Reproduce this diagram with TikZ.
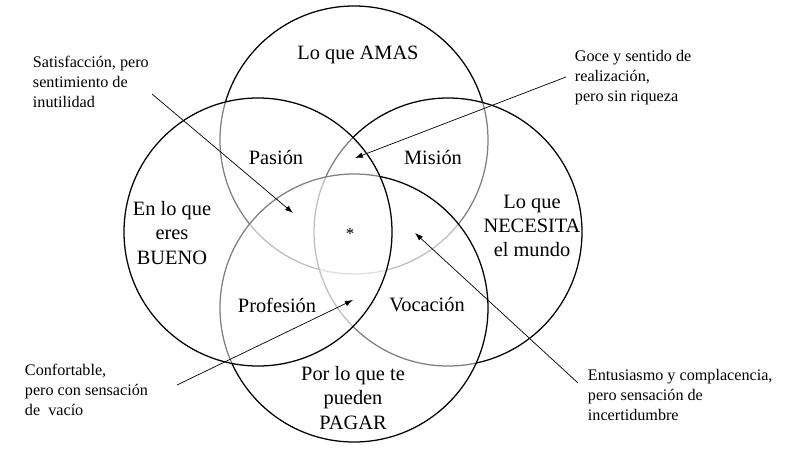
\documentclass[tikz,border=0pt]{standalone}
\usepackage{fontspec}
\setmainfont{Liberation Serif}
\usetikzlibrary{positioning,arrows.meta}

\begin{document}
\begin{tikzpicture}[
    ring/.style={draw=black, line width=0.9pt, fill=white, fill opacity=0.5},
    area/.style={font=\fontsize{14.5}{17.2}\selectfont, align=center},
    note/.style={font=\fontsize{11.5}{14.2}\selectfont, align=left, anchor=west},
    pointer/.style={line width=0.5pt, -{Latex[length=2mm,width=1.4mm]}}
]
    \useasboundingbox (0,0) rectangle (20,11.475);

    % Circles (drawn in this order, each one greys what lies below it)
    \draw[ring] (8.85,7.975) circle (3.35);
    \draw[ring] (11.2,5.675) circle (3.35);
    \draw[ring] (8.85,3.775) circle (3.35);
    \draw[ring] (6.45,5.675) circle (3.35);

    % Circle labels
    \node[area] (amas) at (8.95,10.1) {Lo que AMAS};
    \node[area] (bueno) at (4.3,5.65) {En lo que\\eres\\BUENO};
    \node[area] (necesita) at (13.3,5.825) {Lo que\\NECESITA\\el mundo};
    \node[area] (pagar) at (8.825,1.525) {Por lo que te\\pueden\\PAGAR};

    % Overlaps
    \node[area] (pasion) at (6.9,7.525) {Pasión};
    \node[area] (mision) at (10.825,7.525) {Misión};
    \node[area] (profesion) at (6.925,3.85) {Profesión};
    \node[area] (vocacion) at (10.675,3.85) {Vocación};
    \node[area, font=\fontsize{12}{14}\selectfont] (centro) at (8.75,5.62) {*};

    % Notes
    \node[note] (sat) at (0.7,9.425) {Satisfacción, pero\\sentimiento de\\inutilidad};
    \node[note] (goce) at (14.25,9.525) {Goce y sentido de\\realización,\\pero sin riqueza};
    \node[note] (conf) at (0.5,1.725) {Confortable,\\pero con sensación\\de\ \ vacío};
    \node[note] (entu) at (14.575,1.6) {Entusiasmo y complacencia,\\pero sensación de\\incertidumbre};

    % Arrows
    \coordinate (satA) at (3.8,9.125);
    \coordinate (satB) at (7.325,6.15);
    \coordinate (goceA) at (14.15,9.55);
    \coordinate (goceB) at (8.875,7.525);
    \coordinate (confA) at (4.425,1.85);
    \coordinate (confB) at (8.825,3.975);
    \coordinate (entuA) at (14.45,1.9);
    \coordinate (entuB) at (10.375,5.65);
    \draw[pointer] (satA) -- (satB);
    \draw[pointer] (goceA) -- (goceB);
    \draw[pointer] (confA) -- (confB);
    \draw[pointer] (entuA) -- (entuB);
\end{tikzpicture}
\end{document}
